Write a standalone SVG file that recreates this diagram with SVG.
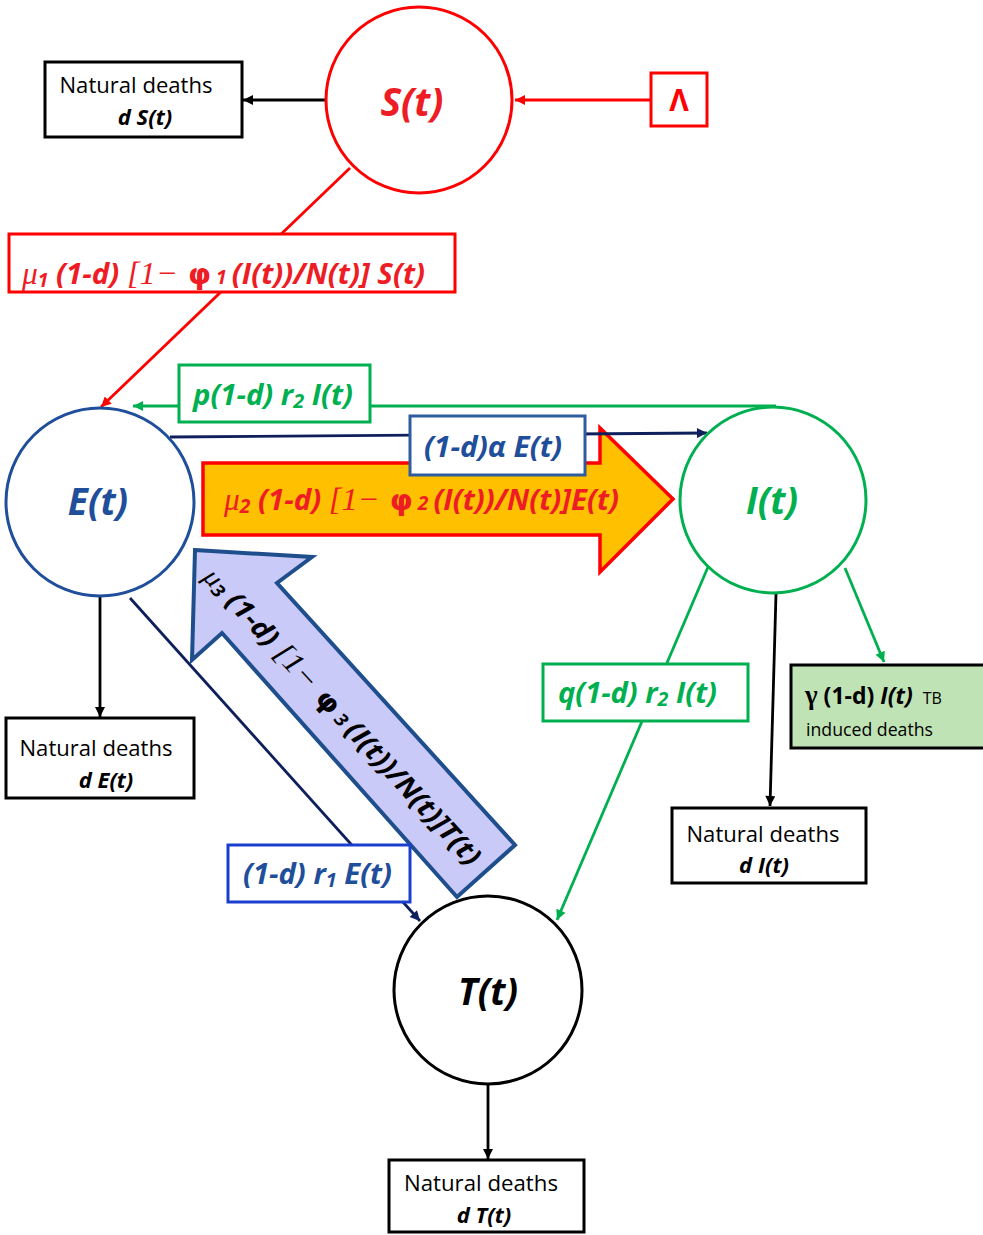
<svg xmlns="http://www.w3.org/2000/svg" width="983" height="1235" viewBox="0 0 983 1235">
<style>
.bg{fill:#ffffff}
.f{font-family:"Open Sans","Liberation Sans",sans-serif;font-weight:bold;font-style:italic}
.n{font-family:"Open Sans","Liberation Sans",sans-serif;font-weight:normal;font-style:normal}
.ser{font-family:"Liberation Serif",serif;font-weight:normal;font-style:italic}
.sym{font-family:"DejaVu Sans",sans-serif;font-weight:bold;font-style:normal}
.circ{fill:#ffffff;stroke-width:3}
.box{fill:#ffffff;stroke:#000000;stroke-width:3}
.ln{fill:none;stroke-width:2.8}
.red{fill:#ee1c24}
.grn{fill:#00b050}
.blu{fill:#1f4e9a}
.blk{fill:#000000}
</style>
<defs>
<marker id="ak" viewBox="0 0 10 10" refX="10" refY="5" markerWidth="13" markerHeight="10" markerUnits="userSpaceOnUse" orient="auto"><path d="M0,0 L10,5 L0,10 z" fill="#000000"/></marker>
<marker id="ar" viewBox="0 0 10 10" refX="10" refY="5" markerWidth="13" markerHeight="10" markerUnits="userSpaceOnUse" orient="auto"><path d="M0,0 L10,5 L0,10 z" fill="#ff0000"/></marker>
<marker id="ag" viewBox="0 0 10 10" refX="10" refY="5" markerWidth="13" markerHeight="10" markerUnits="userSpaceOnUse" orient="auto"><path d="M0,0 L10,5 L0,10 z" fill="#00b050"/></marker>
<marker id="an" viewBox="0 0 10 10" refX="10" refY="5" markerWidth="13" markerHeight="10" markerUnits="userSpaceOnUse" orient="auto"><path d="M0,0 L10,5 L0,10 z" fill="#0e1f5b"/></marker>
</defs>
<rect class="bg" x="0" y="0" width="983" height="1235"/>

<g id="connectors">
<line class="ln" x1="325" y1="100" x2="243" y2="100" stroke="#000000" marker-end="url(#ak)"/>
<line class="ln" x1="651" y1="100" x2="515" y2="100" stroke="#ff0000" marker-end="url(#ar)"/>
<line class="ln" x1="350" y1="168" x2="101" y2="407" stroke="#ff0000" marker-end="url(#ar)"/>
<path class="ln" d="M776,406 L133,406" stroke="#00b050" marker-end="url(#ag)"/>
<line class="ln" x1="130" y1="598" x2="420" y2="921" stroke="#0e1f5b" marker-end="url(#an)"/>
<line class="ln" x1="708" y1="567" x2="557" y2="920" stroke="#00b050" marker-end="url(#ag)"/>
<line class="ln" x1="776" y1="594" x2="770" y2="806" stroke="#000000" marker-end="url(#ak)"/>
<line class="ln" x1="845" y1="568" x2="884" y2="662" stroke="#00b050" marker-end="url(#ag)"/>
<line class="ln" x1="100" y1="597" x2="100" y2="717" stroke="#000000" marker-end="url(#ak)"/>
<line class="ln" x1="488" y1="1085" x2="488" y2="1159" stroke="#000000" marker-end="url(#ak)"/>
<g id="flow-T-E">
<polygon points="195,550 312,557 277,583 515,845 457,897 222,633 192,660" fill="#cacaf8" stroke="#1f4e8c" stroke-width="4" stroke-linejoin="miter"/>
<text class="f blk" font-size="27" text-anchor="middle" transform="translate(343,716) rotate(47.3)" x="0" y="10" textLength="394" lengthAdjust="spacingAndGlyphs"><tspan class="ser">μ</tspan><tspan font-size="18" dy="3">3</tspan><tspan dy="-3"> (1-d) </tspan><tspan class="ser" font-size="30">[1−</tspan><tspan class="sym"> φ</tspan><tspan font-size="18"> 3 </tspan>(I(t))/N(t)]T(t)</text>
</g>
<g id="flow-E-I">
<polygon points="203,463 600,463 600,428 673,499 600,572 600,535 203,535" fill="#ffc000" stroke="#ff0000" stroke-width="3.5"/>
<text class="f red" font-size="29" x="224" y="510" textLength="395" lengthAdjust="spacingAndGlyphs"><tspan class="ser" font-size="31">μ</tspan><tspan font-size="19" dy="3">2</tspan><tspan dy="-3"> (1-d) </tspan><tspan class="ser" font-size="32"> [1−</tspan><tspan class="sym"> φ</tspan><tspan font-size="19"> 2 </tspan>(I(t))/N(t)]E(t)</text>
</g>
<line class="ln" x1="170" y1="437" x2="707" y2="433" stroke="#0e1f5b" marker-end="url(#an)"/>
</g>

<g id="labels">
<g id="lbl-mu1">
<rect x="9" y="234" width="446" height="58" fill="#ffffff" stroke="#ff0000" stroke-width="3"/>
<text class="f red" font-size="29" x="22" y="284" textLength="403" lengthAdjust="spacingAndGlyphs"><tspan class="ser" font-size="31">μ</tspan><tspan font-size="19" dy="3">1</tspan><tspan dy="-3"> (1-d) </tspan><tspan class="ser" font-size="32"> [1−</tspan><tspan class="sym"> φ</tspan><tspan font-size="19"> 1 </tspan>(I(t))/N(t)] S(t)</text>
</g>
<g id="lbl-p">
<rect x="179" y="365" width="191" height="57" fill="#ffffff" stroke="#00b050" stroke-width="3"/>
<text class="f grn" font-size="28" x="193" y="405" textLength="160" lengthAdjust="spacingAndGlyphs">p(1-d) r<tspan font-size="19" dy="3">2</tspan><tspan dy="-3"> I(t)</tspan></text>
</g>
<g id="lbl-alpha">
<rect x="410" y="416" width="175" height="59" fill="#ffffff" stroke="#2e5d9f" stroke-width="3"/>
<text class="f blu" font-size="28" x="424" y="457" textLength="138" lengthAdjust="spacingAndGlyphs">(1-d)α E(t)</text>
</g>
<g id="lbl-q">
<rect x="543" y="664" width="205" height="57" fill="#ffffff" stroke="#00b050" stroke-width="3"/>
<text class="f grn" font-size="28" x="558" y="703" textLength="159" lengthAdjust="spacingAndGlyphs">q(1-d) r<tspan font-size="19" dy="3">2</tspan><tspan dy="-3"> I(t)</tspan></text>
</g>
<g id="lbl-r1">
<rect x="228" y="845" width="182" height="57" fill="#ffffff" stroke="#1a3fcf" stroke-width="3"/>
<text class="f blu" font-size="28" x="243" y="884" textLength="149" lengthAdjust="spacingAndGlyphs">(1-d) r<tspan font-size="19" dy="3">1</tspan><tspan dy="-3"> E(t)</tspan></text>
</g>
</g>

<g id="node-S">
<circle class="circ" cx="419" cy="100" r="93" stroke="#ff0000"/>
<text class="f red" font-size="39" x="412" y="116" text-anchor="middle">S(t)</text>
</g>
<g id="node-Lambda">
<rect x="651" y="73" width="56" height="53" fill="#ffffff" stroke="#ff0000" stroke-width="3"/>
<text x="679" y="111" text-anchor="middle" font-family="Open Sans, Liberation Sans, sans-serif" font-weight="bold" font-size="30" fill="#ff0000">Λ</text>
</g>
<g id="node-E">
<circle class="circ" cx="100" cy="502" r="94" stroke="#1f4e9a"/>
<text class="f blu" font-size="37" x="98" y="515" text-anchor="middle">E(t)</text>
</g>
<g id="node-I">
<circle class="circ" cx="773" cy="500" r="93" stroke="#00b050"/>
<text class="f grn" font-size="37" x="772" y="514" text-anchor="middle">I(t)</text>
</g>
<g id="node-T">
<circle class="circ" cx="488" cy="990" r="94" stroke="#000000"/>
<text class="f blk" font-size="37" x="488" y="1005" text-anchor="middle">T(t)</text>
</g>
<g id="node-ND-S">
<rect class="box" x="45" y="62" width="197" height="75"/>
<text class="n blk" font-size="21" x="136" y="93" text-anchor="middle" textLength="153" lengthAdjust="spacingAndGlyphs">Natural deaths</text>
<text class="f blk" font-size="22" x="145" y="125" text-anchor="middle">d S(t)</text>
</g>
<g id="node-ND-E">
<rect class="box" x="6" y="718" width="188" height="80"/>
<text class="n blk" font-size="21" x="96" y="756" text-anchor="middle" textLength="153" lengthAdjust="spacingAndGlyphs">Natural deaths</text>
<text class="f blk" font-size="22" x="106" y="788" text-anchor="middle">d E(t)</text>
</g>
<g id="node-ND-I">
<rect class="box" x="672" y="808" width="194" height="75"/>
<text class="n blk" font-size="21" x="763" y="842" text-anchor="middle" textLength="153" lengthAdjust="spacingAndGlyphs">Natural deaths</text>
<text class="f blk" font-size="22" x="764" y="873" text-anchor="middle">d I(t)</text>
</g>
<g id="node-ND-T">
<rect class="box" x="389" y="1160" width="195" height="72"/>
<text class="n blk" font-size="21" x="481" y="1191" text-anchor="middle" textLength="154" lengthAdjust="spacingAndGlyphs">Natural deaths</text>
<text class="f blk" font-size="22" x="484" y="1223" text-anchor="middle">d T(t)</text>
</g>
<g id="node-TB">
<rect x="791" y="665" width="195" height="83" fill="#bfe3b4" stroke="#000000" stroke-width="3"/>
<text x="805" y="704" fill="#000000" font-size="23"><tspan font-family="Liberation Serif, serif" font-weight="bold" font-size="27">γ</tspan><tspan font-family="Open Sans, Liberation Sans, sans-serif" font-weight="bold"> (1-d) </tspan><tspan class="f">I(t)</tspan><tspan font-family="Open Sans, Liberation Sans, sans-serif" font-size="16" dx="10">TB</tspan></text>
<text class="n blk" font-size="18" x="806" y="736" textLength="127" lengthAdjust="spacingAndGlyphs">induced deaths</text>
</g>
</svg>
